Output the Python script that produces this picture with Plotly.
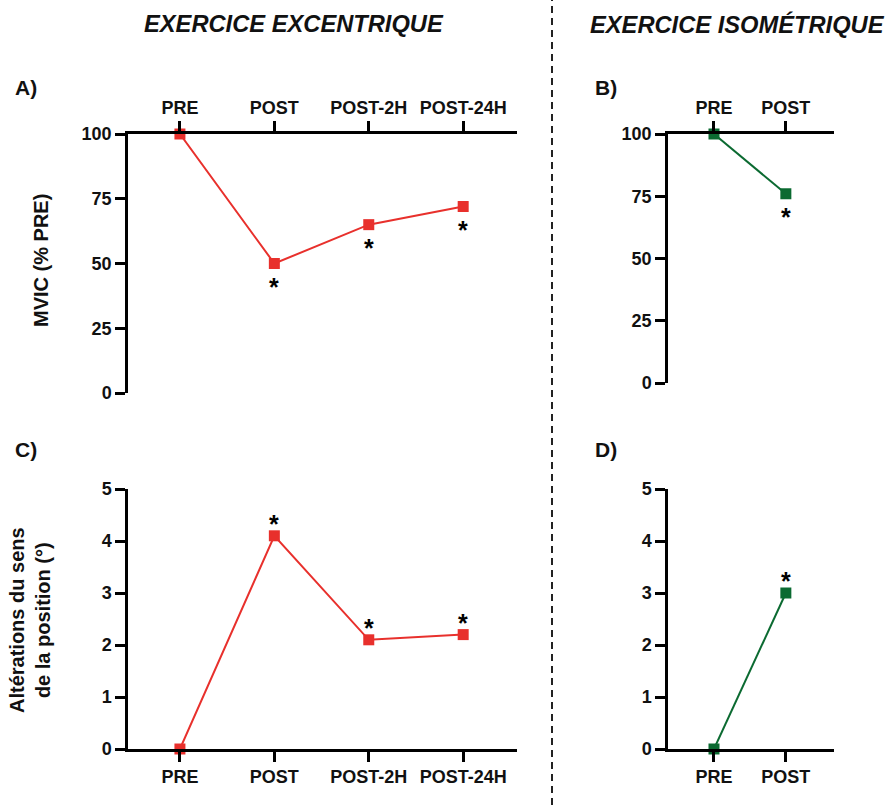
import plotly.graph_objects as go

# ---- data ----
times_exc = ["PRE", "POST", "POST-2H", "POST-24H"]
times_iso = ["PRE", "POST"]
mvic_exc = [100, 50, 65, 72]
mvic_iso = [100, 76]
pos_exc = [0, 4.1, 2.1, 2.2]
pos_iso = [0, 3]
sig_exc = [False, True, True, True]
sig_iso = [False, True]

RED = "#E8302C"
GREEN = "#0B6A31"
FONT = "Liberation Sans, Arial, sans-serif"
W, H = 888, 805


def xd(a, b):
    return [a / W, b / W]


def yd(top, bottom):
    return [1 - bottom / H, 1 - top / H]


fig = go.Figure()

panels = [
    ("x", "y", times_exc, mvic_exc, sig_exc, RED, True),
    ("x2", "y2", times_iso, mvic_iso, sig_iso, GREEN, True),
    ("x3", "y3", times_exc, pos_exc, sig_exc, RED, False),
    ("x4", "y4", times_iso, pos_iso, sig_iso, GREEN, False),
]

annotations = []
for xa, ya, cats, vals, sig, col, below in panels:
    fig.add_trace(go.Scatter(
        x=cats, y=vals, xaxis=xa, yaxis=ya, mode="lines+markers",
        line=dict(color=col, width=2),
        marker=dict(symbol="square", size=11, color=col),
        cliponaxis=False, showlegend=False, hoverinfo="skip"))
    for c, v, s in zip(cats, vals, sig):
        if s:
            annotations.append(dict(
                x=c, y=v, xref=xa, yref=ya, text="<b>*</b>", showarrow=False,
                font=dict(family=FONT, size=25, color="black"),
                yanchor="middle", yshift=(-23 if below else 12)))

axis_common = dict(showline=True, linewidth=2.5, linecolor="black",
                   ticks="outside", ticklen=10, tickwidth=2.5, tickcolor="black",
                   showgrid=False, zeroline=False, automargin=False,
                   tickfont=dict(family=FONT, size=18, color="#111", weight="bold"))

fig.update_layout(
    width=W, height=H, autosize=False,
    margin=dict(l=0, r=0, t=0, b=0, pad=0, autoexpand=False),
    plot_bgcolor="white", paper_bgcolor="white",
    xaxis=dict(axis_common, domain=xd(128, 517), anchor="y", side="top",
               type="category", range=[-0.55, 3.57]),
    yaxis=dict(axis_common, domain=yd(134, 393), anchor="x", range=[0, 100],
               tickvals=[0, 25, 50, 75, 100]),
    xaxis2=dict(axis_common, domain=xd(668, 834), anchor="y2", side="top",
                type="category", range=[-0.64, 1.67]),
    yaxis2=dict(axis_common, domain=yd(134, 383), anchor="x2", range=[0, 100],
                tickvals=[0, 25, 50, 75, 100]),
    xaxis3=dict(axis_common, domain=xd(128, 517), anchor="y3", side="bottom",
                type="category", range=[-0.55, 3.57]),
    yaxis3=dict(axis_common, domain=yd(489, 749), anchor="x3", range=[0, 5],
                tickvals=[0, 1, 2, 3, 4, 5]),
    xaxis4=dict(axis_common, domain=xd(668, 834), anchor="y4", side="bottom",
                type="category", range=[-0.64, 1.67]),
    yaxis4=dict(axis_common, domain=yd(489, 749), anchor="x4", range=[0, 5],
                tickvals=[0, 1, 2, 3, 4, 5]),
)


def pa(x, y, text, size, angle=0, italic=False):
    annotations.append(dict(
        x=x / W, y=1 - y / H, xref="paper", yref="paper", text=text,
        showarrow=False, textangle=angle, xanchor="center", yanchor="middle",
        font=dict(family=FONT, size=size, color="#111", weight="bold",
                  style=("italic" if italic else "normal"))))


pa(294, 24, "EXERCICE EXCENTRIQUE", 23.7, italic=True)
pa(737, 24, "EXERCICE ISOMÉTRIQUE", 23.7, italic=True)
pa(26, 87, "A)", 21)
pa(606, 87, "B)", 21)
pa(26, 449, "C)", 21)
pa(606, 449, "D)", 21)
pa(41, 261, "MVIC (% PRE)", 20, angle=-90)
pa(30, 620, "Altérations du sens<br>de la position (°)", 20, angle=-90)

fig.update_layout(annotations=annotations)

fig.add_shape(type="line", xref="paper", yref="paper",
              x0=552 / W, x1=552 / W, y0=0, y1=1,
              line=dict(color="#222", width=2, dash="7px,5px"))

fig.write_html("out.html",
               config=dict(displayModeBar=False, responsive=False),
               post_script="document.body.style.margin='0';")
